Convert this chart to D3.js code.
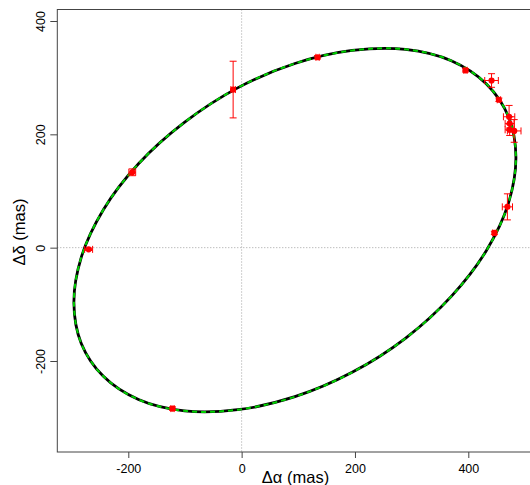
<!DOCTYPE html>
<html><head><meta charset="utf-8">
<script src="https://cdn.jsdelivr.net/npm/d3@7"></script>
<style>html,body{margin:0;padding:0;background:#fff;}svg{display:block;}</style>
</head><body>
<svg id="c" width="530" height="485"></svg>
<script>
// observations (mas)
const obsRA   = [-270, -193, -15, 134, -122, 395, 441, 454, 472, 473, 473, 481, 469, 446];
const obsDec  = [  -3,  133, 279, 336, -284, 313, 295, 261, 231, 219, 208, 206,  72,  26];
const errRA   = [   7,    6,   4,   3,    3,   3,  12,   3,  10,   8,   8,  12,   9,   3];
const errDec  = [   2,    6,  50,   3,    3,   3,  12,   3,  20,  12,  10,  20,  23,   3];
// orbit curve, points read along the ellipse (mas)
const orbitRA  = [484, 471, 432, 370, 289, 195, 94, -7, -101, -182, -244, -283, -296, -283, -244, -182, -101, -7, 94, 195, 289, 370, 432, 471];
const orbitDec = [160, 231, 289, 330, 350, 348, 325, 282, 221, 148, 67, -17, -97, -169, -227, -268, -288, -286, -263, -220, -160, -86, -5, 79];
const xTicks = [-200, 0, 200, 400];
const yTicks = [-200, 0, 200, 400];

const svg = d3.select("#c");
const x = d3.scaleLinear().domain([-200, 400]).range([128.3, 468.3]);
const y = d3.scaleLinear().domain([-200, 400]).range([361, 21]);
const L = 57.3, R = 534, T = 9.5, B = 452;
const font = "'Liberation Sans', Arial, Helvetica, sans-serif";

// zero lines
svg.append("line").attr("x1", L).attr("x2", R).attr("y1", y(0)).attr("y2", y(0))
  .attr("stroke", "#a0a0a0").attr("stroke-width", 1).attr("stroke-dasharray", "1,2");
svg.append("line").attr("y1", T).attr("y2", B).attr("x1", x(0)).attr("x2", x(0))
  .attr("stroke", "#a0a0a0").attr("stroke-width", 1).attr("stroke-dasharray", "1,2");

// orbit
const orbit = orbitRA.map((v, i) => [x(v), y(orbitDec[i])]);
const line = d3.line().curve(d3.curveCatmullRomClosed.alpha(0.5));
svg.append("path").attr("d", line(orbit)).attr("fill", "none").attr("stroke", "#000").attr("stroke-width", 2.8);
svg.append("path").attr("d", line(orbit)).attr("fill", "none").attr("stroke", "#00d000").attr("stroke-width", 2).attr("stroke-dasharray", "5,4");

// error bars and points
const g = svg.append("g").attr("stroke", "#ff0000").attr("stroke-width", 1).attr("fill", "none");
obsRA.forEach((v, i) => {
  const cx = x(v), cy = y(obsDec[i]);
  const x0 = x(v - errRA[i]), x1 = x(v + errRA[i]);
  const y0 = y(obsDec[i] - errDec[i]), y1 = y(obsDec[i] + errDec[i]);
  const cap = 3.5;
  g.append("line").attr("x1", x0).attr("x2", x1).attr("y1", cy).attr("y2", cy);
  g.append("line").attr("x1", x0).attr("x2", x0).attr("y1", cy - cap).attr("y2", cy + cap);
  g.append("line").attr("x1", x1).attr("x2", x1).attr("y1", cy - cap).attr("y2", cy + cap);
  g.append("line").attr("x1", cx).attr("x2", cx).attr("y1", y0).attr("y2", y1);
  g.append("line").attr("x1", cx - cap).attr("x2", cx + cap).attr("y1", y0).attr("y2", y0);
  g.append("line").attr("x1", cx - cap).attr("x2", cx + cap).attr("y1", y1).attr("y2", y1);
});
svg.append("g").selectAll("circle").data(obsRA).join("circle")
  .attr("cx", d => x(d)).attr("cy", (d, i) => y(obsDec[i])).attr("r", 3.1).attr("fill", "#ff0000");

// frame
svg.append("rect").attr("x", L).attr("y", T).attr("width", R - L).attr("height", B - T)
  .attr("fill", "none").attr("stroke", "#444").attr("stroke-width", 1);

// axes
const fmt = d => String(d);
const xa = svg.append("g").attr("transform", `translate(0,${B})`)
  .call(d3.axisBottom(x).tickValues(xTicks).tickFormat(fmt).tickSize(6).tickSizeOuter(0).tickPadding(8));
const ya = svg.append("g").attr("transform", `translate(${L},0)`)
  .call(d3.axisLeft(y).tickValues(yTicks).tickFormat(fmt).tickSize(7).tickSizeOuter(0));
[xa, ya].forEach(a => {
  a.select(".domain").remove();
  a.selectAll("line").attr("stroke", "#444");
  a.selectAll("text").attr("font-family", font).attr("font-size", 12.5).attr("fill", "#000");
});
ya.selectAll("text")
  .attr("x", null).attr("dy", null).attr("y", 0)
  .attr("transform", `translate(${45 - L},0) rotate(-90)`)
  .attr("text-anchor", "middle");
xa.selectAll("text").attr("dy", null).attr("y", 21);

// titles
svg.append("text").attr("x", 295.5).attr("y", 483).attr("text-anchor", "middle")
  .attr("font-family", font).attr("font-size", 16.5).text("Δα (mas)");
svg.append("text").attr("transform", "translate(25,232) rotate(-90)").attr("text-anchor", "middle")
  .attr("font-family", font).attr("font-size", 16.5).text("Δδ (mas)");
</script>
</body></html>
